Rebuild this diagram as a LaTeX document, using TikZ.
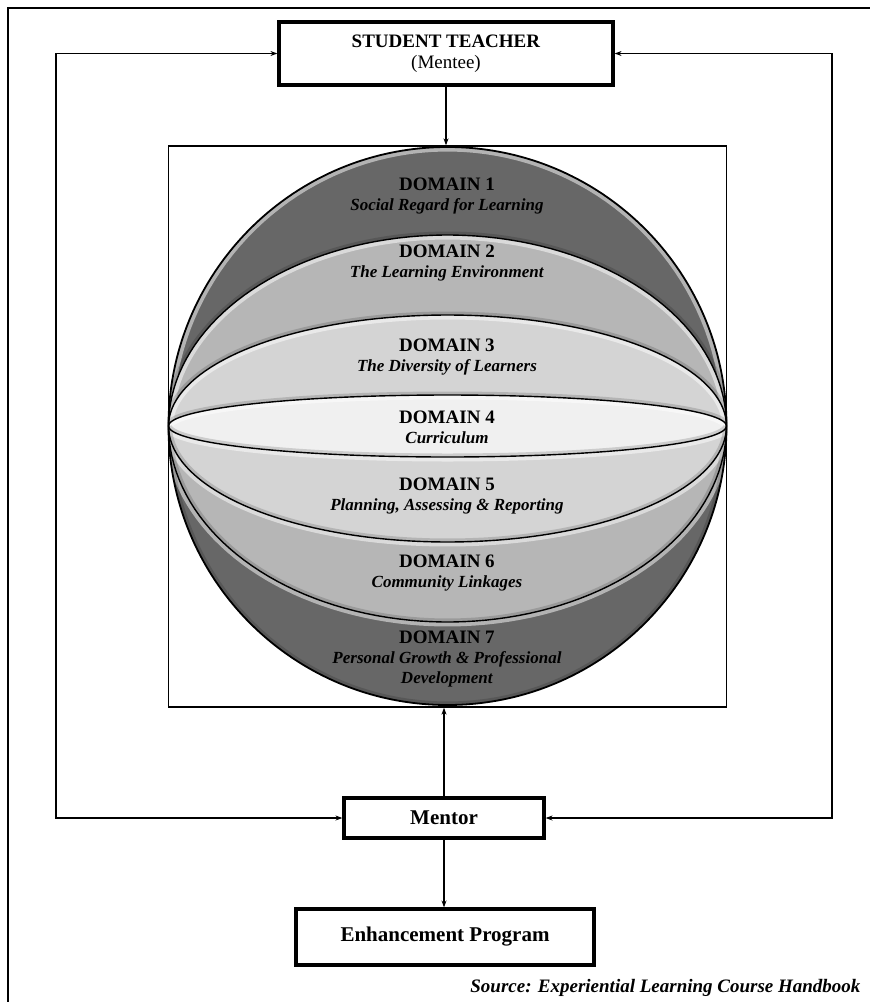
\documentclass[tikz,border=0pt]{standalone}
\usepackage{fontspec}
\setmainfont{Liberation Serif}
\usetikzlibrary{arrows.meta,positioning}
\definecolor{domdark}{HTML}{676767}
\definecolor{dommid}{HTML}{B6B6B6}
\definecolor{domlight}{HTML}{D4D4D4}
\definecolor{domwhite}{HTML}{F0F0F0}
\tikzset{
    box/.style={draw,line width=3.2pt,fill=white,inner sep=0pt},
    flow/.style={line width=1.3pt,-{Stealth[length=7pt,width=5pt]}},
    twoway/.style={line width=1.3pt,{Stealth[length=7pt,width=5pt]}-{Stealth[length=7pt,width=5pt]}},
    border/.style={line width=1.4pt},
    dom/.style={align=center,font=\fontsize{17}{20}\selectfont\bfseries},
}
\newcommand{\domhead}[1]{{\fontsize{19}{20}\selectfont DOMAIN #1}}
\newcommand{\domtext}[2]{\domhead{#1}\\\textit{#2}}
\begin{document}
\begin{tikzpicture}[x=1pt,y=-1pt]
\useasboundingbox (0,0) rectangle (870,1002);
\draw[line width=2.2pt](870,8)--(8,8)--(8,1002);

% sphere bands
\foreach \bt/\bb/\col in {279/191/domdark,191/111/dommid,111/31/domlight,31/-31/domwhite,
                          -31/-116/domlight,-116/-196/dommid,-196/-279/domdark}
{
  \fill[\col] plot[domain=180:360,samples=80]({447.5+279*cos(\x)},{426+\bt*sin(\x)})
      -- plot[domain=360:180,samples=80]({447.5+279*cos(\x)},{426+\bb*sin(\x)}) -- cycle;
  \begin{scope}
    \clip plot[domain=180:360,samples=80]({447.5+279*cos(\x)},{426+\bt*sin(\x)})
      -- plot[domain=360:180,samples=80]({447.5+279*cos(\x)},{426+\bb*sin(\x)}) -- cycle;
    \draw[white,opacity=.5,line width=9pt] plot[domain=180:360,samples=80]({447.5+279*cos(\x)},{426+\bt*sin(\x)});
    \draw[black,opacity=.15,line width=7pt] plot[domain=180:360,samples=80]({447.5+279*cos(\x)},{426+\bb*sin(\x)});
  \end{scope}
}
\foreach \b in {191,111,31,-31,-116,-196}
  \draw[border] plot[domain=180:360,samples=80]({447.5+279*cos(\x)},{426+\b*sin(\x)});
\draw[line width=1.8pt](447.5,426) circle[radius=279];

\node[draw,line width=1.3pt,minimum width=558pt,minimum height=561pt,inner sep=0pt](frame) at (447.5,426.5){};

\node[dom](d1) at (447,196){\domtext{1}{Social Regard for Learning}};
\node[dom](d2) at (447,263){\domtext{2}{The Learning Environment}};
\node[dom](d3) at (447,357){\domtext{3}{The Diversity of Learners}};
\node[dom](d4) at (447,427){\domtext{4}{Curriculum}};
\node[dom](d5) at (447,496){\domtext{5}{Planning, Assessing \& Reporting}};
\node[dom](d6) at (447,573){\domtext{6}{Community Linkages}};
\node[dom](d7) at (447,659){\domhead{7}\\\textit{Personal Growth \& Professional}\\\textit{Development}};

% boxes
\node[box,minimum width=334pt,minimum height=63pt,align=center,font=\fontsize{19}{21}\selectfont]
    (teacher) at (446,53.5){\textbf{STUDENT TEACHER}\\(Mentee)};
\node[box,minimum width=200pt,minimum height=40pt,font=\fontsize{21}{24}\selectfont\bfseries]
    (mentor) at (444,818){Mentor};
\node[box,minimum width=298pt,minimum height=56pt,font=\fontsize{21}{24}\selectfont\bfseries]
    (enhance) at (445,937){Enhancement Program};
\node[anchor=east,font=\fontsize{19}{22}\selectfont\bfseries\itshape](source) at (864,988)
    {Source: Experiential Learning Course Handbook};

\coordinate (loopL) at (56,430);
\coordinate (loopR) at (832,430);
\draw[flow](teacher.south)--(teacher.south|-frame.north);
\draw[flow](mentor.north)--(mentor.north|-frame.south);
\draw[flow](mentor.south)--(mentor.south|-enhance.north);
\draw[twoway](teacher.west)-|(loopL)|-(mentor.west);
\draw[twoway](teacher.east)-|(loopR)|-(mentor.east);
\end{tikzpicture}
\end{document}
